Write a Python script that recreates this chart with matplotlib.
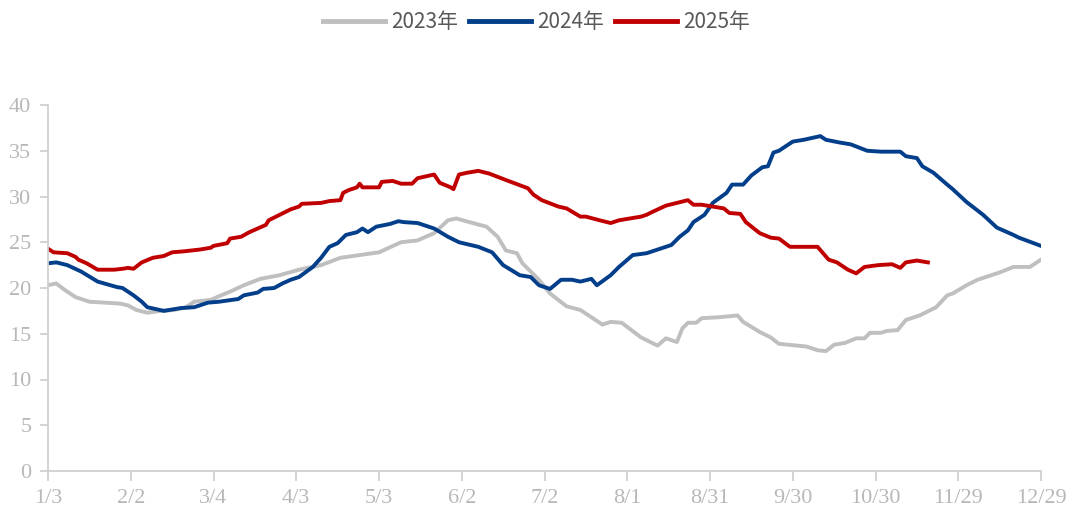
import matplotlib.pyplot as plt
import numpy as np

# 天数：从 1/3 起算
tick_labels = ['1/3', '2/2', '3/4', '4/3', '5/3', '6/2', '7/2', '8/1', '8/31',
               '9/30', '10/30', '11/29', '12/29']
tick_days = [0, 30, 60, 90, 120, 150, 180, 210, 240, 270, 300, 330, 360]

days_2023 = [0, 3, 6, 10, 15, 26, 29, 32, 36, 41, 46, 50, 53, 59, 62, 66, 71, 77,
             84, 91, 99, 106, 113, 120, 128, 134, 140, 145, 148, 154, 159, 163,
             166, 170, 172, 178, 182, 188, 193, 201, 204, 208, 215, 221, 224,
             228, 230, 232, 235, 237, 243, 250, 252, 258, 262, 265, 275, 279,
             282, 285, 289, 293, 296, 298, 302, 304, 308, 311, 316, 322, 326,
             328, 333, 337, 345, 350, 356, 360]
vals_2023 = [20.3, 20.5, 19.8, 19.0, 18.5, 18.3, 18.1, 17.6, 17.3, 17.5, 17.6,
             17.9, 18.5, 18.7, 19.1, 19.6, 20.3, 21.0, 21.4, 22.0, 22.5, 23.3,
             23.6, 23.9, 25.0, 25.2, 26.0, 27.4, 27.6, 27.1, 26.7, 25.6, 24.1,
             23.8, 22.7, 20.9, 19.4, 18.0, 17.6, 16.0, 16.3, 16.2, 14.6, 13.7,
             14.5, 14.1, 15.6, 16.2, 16.2, 16.7, 16.8, 17.0, 16.3, 15.2, 14.6,
             13.9, 13.6, 13.2, 13.1, 13.8, 14.0, 14.5, 14.5, 15.1, 15.1, 15.3,
             15.4, 16.5, 17.0, 17.9, 19.2, 19.4, 20.3, 20.9, 21.7, 22.3, 22.3,
             23.1]

days_2024 = [0, 3, 7, 12, 18, 25, 27, 31, 34, 36, 42, 48, 53, 58, 62, 69, 71, 76,
             78, 82, 85, 88, 91, 96, 99, 102, 105, 108, 112, 114, 116, 119, 124,
             127, 129, 134, 140, 145, 149, 156, 161, 165, 171, 175, 178, 182,
             186, 190, 193, 197, 199, 204, 207, 212, 217, 222, 226, 229, 232,
             234, 238, 241, 246, 248, 252, 255, 259, 261, 263, 265, 270, 274,
             280, 282, 287, 291, 297, 302, 309, 311, 315, 317, 321, 326, 328,
             333, 339, 344, 350, 352, 360]
vals_2024 = [22.7, 22.8, 22.5, 21.8, 20.7, 20.1, 20.0, 19.2, 18.5, 17.9, 17.5,
             17.8, 17.9, 18.4, 18.5, 18.8, 19.2, 19.5, 19.9, 20.0, 20.5, 20.9,
             21.2, 22.3, 23.3, 24.5, 24.9, 25.8, 26.1, 26.5, 26.1, 26.7, 27.0,
             27.3, 27.2, 27.1, 26.5, 25.6, 25.0, 24.5, 23.9, 22.5, 21.4, 21.2,
             20.3, 19.9, 20.9, 20.9, 20.7, 21.0, 20.3, 21.4, 22.3, 23.6, 23.8,
             24.3, 24.7, 25.6, 26.3, 27.2, 28.0, 29.3, 30.4, 31.3, 31.3, 32.3,
             33.2, 33.3, 34.8, 35.0, 36.0, 36.2, 36.6, 36.2, 35.9, 35.7, 35.0,
             34.9, 34.9, 34.4, 34.2, 33.3, 32.6, 31.3, 30.8, 29.4, 28.0, 26.6,
             25.8, 25.5, 24.6]

days_2025 = [0, 2, 7, 10, 11, 14, 18, 24, 27, 29, 31, 34, 38, 42, 45, 49, 55, 59,
             60, 65, 66, 70, 73, 79, 80, 84, 88, 91, 92, 99, 102, 106, 107, 109,
             112, 113, 114, 120, 121, 125, 128, 132, 134, 140, 142, 146, 147,
             149, 152, 156, 160, 166, 174, 176, 179, 185, 188, 193, 195, 200,
             204, 207, 215, 217, 219, 224, 228, 232, 234, 237, 241, 245, 247,
             251, 253, 258, 262, 265, 269, 279, 283, 286, 290, 293, 296, 301,
             306, 309, 311, 315, 319]
vals_2025 = [24.3, 23.9, 23.8, 23.4, 23.1, 22.7, 22.0, 22.0, 22.1, 22.2, 22.1,
             22.8, 23.3, 23.5, 23.9, 24.0, 24.2, 24.4, 24.6, 24.9, 25.4, 25.6,
             26.1, 26.9, 27.4, 28.0, 28.6, 28.9, 29.2, 29.3, 29.5, 29.6, 30.4,
             30.7, 31.0, 31.4, 31.0, 31.0, 31.6, 31.7, 31.4, 31.4, 32.0, 32.4,
             31.5, 31.0, 30.8, 32.4, 32.6, 32.8, 32.5, 31.8, 30.9, 30.2, 29.6,
             28.9, 28.7, 27.8, 27.8, 27.4, 27.1, 27.4, 27.8, 28.0, 28.3, 29.0,
             29.3, 29.6, 29.1, 29.1, 28.9, 28.7, 28.2, 28.1, 27.2, 26.0, 25.5,
             25.4, 24.5, 24.5, 23.1, 22.8, 22.0, 21.6, 22.3, 22.5, 22.6, 22.2,
             22.8, 23.0, 22.8]

plt.rcParams['font.family'] = ['Noto Sans CJK SC', 'DejaVu Sans']

fig = plt.figure(figsize=(10.73, 5.13), dpi=100)
ax = fig.add_axes([48 / 1073, 1 - 471 / 513, (1041 - 48) / 1073, (471 - 105) / 513])

ax.plot(days_2023, vals_2023, color='#bfbfbf', lw=2.8, label='2023年')
ax.plot(days_2024, vals_2024, color='#023e8a', lw=2.8, label='2024年')
ax.plot(days_2025, vals_2025, color='#c00000', lw=2.8, label='2025年')

ax.set_xlim(0, 360)
ax.set_ylim(0, 40)
ax.set_xticks(tick_days)
ax.set_xticklabels(tick_labels)
ax.set_yticks(np.arange(0, 41, 5))

for s in ['top', 'right']:
    ax.spines[s].set_visible(False)
for s in ['left', 'bottom']:
    ax.spines[s].set_color('#d0d0d0')
    ax.spines[s].set_linewidth(1.3)

ax.tick_params(axis='both', direction='out', color='#d0d0d0', width=1.3,
               labelcolor='#b8b8b8', labelsize=16)
ax.tick_params(axis='x', length=7, pad=6)
ax.tick_params(axis='y', length=6, pad=6)
for lab in ax.get_xticklabels() + ax.get_yticklabels():
    lab.set_family('Liberation Serif')

leg = fig.legend(loc='upper center', bbox_to_anchor=(0.5, 1.015), ncol=3,
                 frameon=False, fontsize=15, handlelength=3.0, handletextpad=0.3,
                 columnspacing=0.5)
for t in leg.get_texts():
    t.set_color('#595959')
for l in leg.get_lines():
    l.set_linewidth(3.5)

fig.savefig('out.png', dpi=100)
